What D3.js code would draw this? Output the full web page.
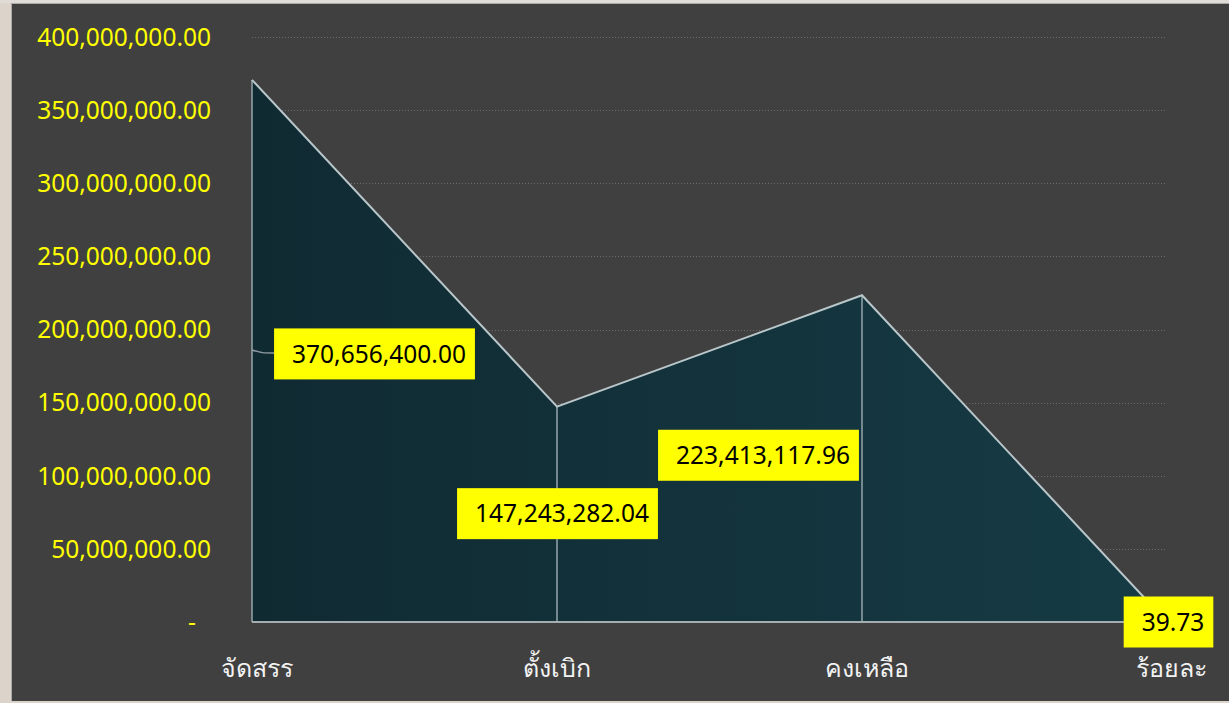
<!DOCTYPE html>
<html>
<head>
<meta charset="utf-8">
<script src="https://cdn.jsdelivr.net/npm/d3@7"></script>
<style>
  html, body { margin: 0; padding: 0; background: #dcd3ca; }
  svg { display: block; }
</style>
</head>
<body>
<div id="chart"></div>
<script>
// data
var categories = ["จัดสรร", "ตั้งเบิก", "คงเหลือ", "ร้อยละ"];
var values = [370656400.00, 147243282.04, 223413117.96, 39.73];
var labelText = ["370,656,400.00", "147,243,282.04", "223,413,117.96", "39.73"];
var yTicks = [0, 50000000, 100000000, 150000000, 200000000, 250000000, 300000000, 350000000, 400000000];

// layout
var W = 1229, H = 703;
var fontFam = "'Noto Sans', 'Open Sans', sans-serif";
// where the data labels sit relative to their point (px)
var labelShift = [[122, 274], [0, 107], [-104, 160], [1, 0]];

var svg = d3.select("#chart")
  .append("svg")
    .attr("width", W)
    .attr("height", H);

// frame: beige strip left, light edges top / bottom
svg.append("rect").attr("x", 0).attr("y", 0).attr("width", W).attr("height", H).attr("fill", "#dcd3ca");
svg.append("rect").attr("x", 11).attr("y", 3).attr("width", W - 11).attr("height", H - 5).attr("fill", "#a9a9a9");
svg.append("rect").attr("x", 12).attr("y", 4).attr("width", W - 12).attr("height", H - 6).attr("fill", "#404040");
svg.append("rect").attr("x", 0).attr("y", 0).attr("width", W).attr("height", 3).attr("fill", "#e0dcd8");

var x = d3.scalePoint()
  .domain(categories)
  .range([252, 1167]);

var y = d3.scaleLinear()
  .domain([0, 400000000])
  .range([622, 37]);

// gridlines (dotted)
svg.append("g")
  .selectAll("line")
  .data(yTicks.filter(function(d){ return d > 0 }))
  .enter()
  .append("line")
    .attr("x1", 252)
    .attr("x2", 1167)
    .attr("y1", function(d){ return Math.round(y(d)) + 0.5 })
    .attr("y2", function(d){ return Math.round(y(d)) + 0.5 })
    .style("stroke", "#6c6c6c")
    .style("stroke-width", 1)
    .style("stroke-dasharray", "1,2");

// area gradient
var defs = svg.append("defs");
var grad = defs.append("linearGradient")
  .attr("id", "areaGrad")
  .attr("x1", "0%").attr("x2", "100%")
  .attr("y1", "0%").attr("y2", "0%");
grad.append("stop").attr("offset", "0%").attr("stop-color", "#102a32");
grad.append("stop").attr("offset", "100%").attr("stop-color", "#163b45");

var pts = categories.map(function(c, i){ return { c: c, v: values[i] } });

var area = d3.area()
  .x(function(d){ return x(d.c) })
  .y0(y(0))
  .y1(function(d){ return y(d.v) });

svg.append("path")
  .datum(pts)
  .attr("d", area)
  .attr("fill", "url(#areaGrad)");

// drop lines from each point
svg.append("g")
  .selectAll("line")
  .data(pts)
  .enter()
  .append("line")
    .attr("x1", function(d){ return x(d.c) })
    .attr("x2", function(d){ return x(d.c) })
    .attr("y1", function(d){ return y(d.v) })
    .attr("y2", y(0))
    .style("stroke", "#95a6ab")
    .style("stroke-width", 1.5);

// baseline
svg.append("line")
  .attr("x1", 252).attr("x2", 1167)
  .attr("y1", y(0)).attr("y2", y(0))
  .style("stroke", "#a4adb0")
  .style("stroke-width", 2);

// top outline
var line = d3.line()
  .x(function(d){ return x(d.c) })
  .y(function(d){ return y(d.v) });

svg.append("path")
  .datum(pts)
  .attr("d", line)
  .attr("fill", "none")
  .style("stroke", "#b9c6ca")
  .style("stroke-width", 2);

// y axis
var yAxis = d3.axisLeft(y)
  .tickValues(yTicks)
  .tickSize(0)
  .tickPadding(0)
  .tickFormat(function(d){ return d === 0 ? "-" : d3.format(",.2f")(d) });

var ya = svg.append("g")
  .attr("transform", "translate(211,0)")
  .call(yAxis);
ya.select(".domain").remove();
ya.selectAll("text")
  .attr("fill", "#ffff00")
  .attr("font-family", fontFam)
  .attr("font-size", 24.5)
  .attr("dy", "0.34em")
  .attr("dx", function(d){ return d === 0 ? -15 : 0 });

// x axis labels
var xa = svg.append("g")
  .attr("transform", "translate(0," + y(0) + ")")
  .call(d3.axisBottom(x).tickSize(0).tickPadding(0));
xa.select(".domain").remove();
xa.selectAll("text")
  .attr("fill", "#f2f2f2")
  .attr("font-family", fontFam)
  .attr("font-size", 25)
  .attr("dy", 55)
  .attr("dx", function(d, i){ return i === 1 ? -1 : 4 });

// leader line for the first label
svg.append("path")
  .attr("d", "M" + x(categories[0]) + "," + (y(0) - 272) + " C262,353 262,353 274,353")
  .attr("fill", "none")
  .style("stroke", "#8d9ba0")
  .style("stroke-width", 1.5);

// data labels
var labels = svg.append("g")
  .selectAll("g")
  .data(pts)
  .enter()
  .append("g")
    .attr("transform", function(d, i){
      return "translate(" + (x(d.c) + labelShift[i][0]) + "," + (y(d.v) + labelShift[i][1]) + ")";
    });

labels.append("text")
  .attr("class", "lbl")
  .attr("font-family", fontFam)
  .attr("font-size", 24.5)
  .attr("fill", "#000")
  .attr("text-anchor", "middle")
  .attr("dy", "0.36em")
  .attr("x", 5)
  .text(function(d, i){ return labelText[i] });

labels.each(function(){
  var g = d3.select(this);
  var bb = g.select("text").node().getBBox();
  g.insert("rect", "text")
    .attr("x", bb.x - 18)
    .attr("y", -25.5)
    .attr("width", bb.width + 27)
    .attr("height", 51)
    .attr("fill", "#ffff00");
});
</script>
</body>
</html>
